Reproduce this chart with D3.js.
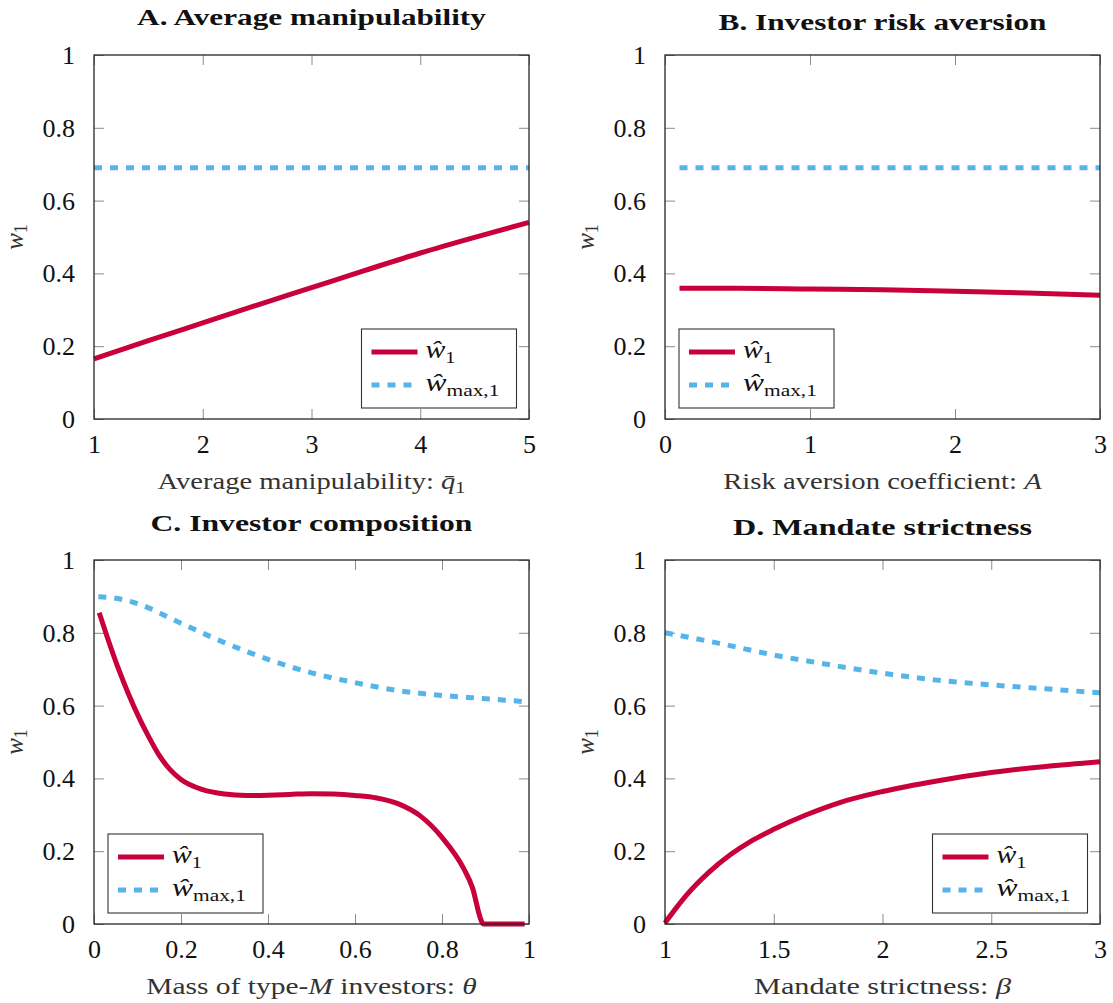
<!DOCTYPE html>
<html><head><meta charset="utf-8">
<script src="https://cdn.jsdelivr.net/npm/d3@7"></script>
<style>body{margin:0;background:#fff}</style>
</head><body>
<svg id="chart" width="1113" height="1003" xmlns="http://www.w3.org/2000/svg"></svg>
<script>
// ---------- text ----------
const panelTitles = ["A. Average manipulability", "B. Investor risk aversion", "C. Investor composition", "D. Mandate strictness"];
const yTickValues = [0, 0.2, 0.4, 0.6, 0.8, 1];
const yTickLabels = ["0", "0.2", "0.4", "0.6", "0.8", "1"];

const aTickValues = [1, 2, 3, 4, 5];
const aTickLabels = ["1", "2", "3", "4", "5"];
const bTickValues = [0, 1, 2, 3];
const bTickLabels = ["0", "1", "2", "3"];
const cTickValues = [0, 0.2, 0.4, 0.6, 0.8, 1];
const cTickLabels = ["0", "0.2", "0.4", "0.6", "0.8", "1"];
const dTickValues = [1, 1.5, 2, 2.5, 3];
const dTickLabels = ["1", "1.5", "2", "2.5", "3"];

// x-axis labels: [text, italic?, subscript?]
const aXLabel = [["Average manipulability: ", false], ["q\u0304", true], ["1", false, true]];
const bXLabel = [["Risk aversion coefficient: ", false], ["A", true]];
const cXLabel = [["Mass of type-", false], ["M", true], [" investors: ", false], ["\u03B8", true]];
const dXLabel = [["Mandate strictness: ", false], ["\u03B2", true]];

const legendSubs = ["1", "max,1"];

// ---------- data ----------
// A. Average manipulability
const aQ    = [1, 1.5, 2, 2.5, 3, 3.5, 4, 4.5, 5];
const aW    = [0.165, 0.215, 0.264, 0.313, 0.361, 0.409, 0.456, 0.499, 0.540];
const aWmax = [0.690, 0.690, 0.690, 0.690, 0.690, 0.690, 0.690, 0.690, 0.690];

// B. Investor risk aversion
const bA    = [0.1, 0.5, 1, 1.5, 2, 2.5, 3];
const bW    = [0.359, 0.359, 0.357, 0.355, 0.351, 0.346, 0.340];
const bWmax = [0.690, 0.690, 0.690, 0.690, 0.690, 0.690, 0.690];

// C. Investor composition
const cTheta = [0.012, 0.03, 0.055, 0.08, 0.1, 0.125, 0.15, 0.175, 0.2, 0.25, 0.3, 0.35, 0.4, 0.45, 0.5, 0.55, 0.6, 0.65, 0.7, 0.75, 0.8, 0.85, 0.87, 0.89, 0.895, 0.94, 0.99];
const cW     = [0.855, 0.790, 0.705, 0.630, 0.576, 0.516, 0.463, 0.424, 0.397, 0.369, 0.357, 0.353, 0.354, 0.356, 0.358, 0.357, 0.353, 0.346, 0.330, 0.297, 0.238, 0.152, 0.100, 0.010, 0.0, 0.0, 0.0];
const cThetaMax = [0.01, 0.05, 0.1, 0.2, 0.3, 0.4, 0.5, 0.6, 0.7, 0.8, 0.9, 0.99];
const cWmax     = [0.899, 0.895, 0.880, 0.826, 0.773, 0.727, 0.690, 0.663, 0.641, 0.628, 0.619, 0.611];

// D. Mandate strictness
const dBeta = [1, 1.05, 1.1, 1.2, 1.3, 1.4, 1.5, 1.65, 1.8, 2, 2.25, 2.5, 2.75, 3];
const dW    = [0.003, 0.043, 0.080, 0.141, 0.190, 0.229, 0.260, 0.300, 0.333, 0.364, 0.393, 0.416, 0.433, 0.446];
const dBetaMax = [1, 1.25, 1.5, 1.75, 2, 2.25, 2.5, 2.75, 3];
const dWmax    = [0.800, 0.771, 0.739, 0.713, 0.689, 0.670, 0.657, 0.646, 0.635];

// ---------- drawing ----------
const FONT = "Liberation Serif";
const RED = "#C8003C", BLUE = "#56B4E9";
const PW = 435, PH = 364;
const FS = 24, TICKFS = 26, SUBFS = 17;

const panels = [
  {title: panelTitles[0], domain: [1, 5], ticks: aTickValues, tickLabels: aTickLabels, xl: aXLabel,
   w: aQ.map((x, i) => [x, aW[i]]), wmax: aQ.map((x, i) => [x, aWmax[i]]),
   left: 94, top: 55, titleBase: 25, titleW: 349, xlW: 308, legendRight: true},
  {title: panelTitles[1], domain: [0, 3], ticks: bTickValues, tickLabels: bTickLabels, xl: bXLabel,
   w: bA.map((x, i) => [x, bW[i]]), wmax: bA.map((x, i) => [x, bWmax[i]]),
   left: 665, top: 55, titleBase: 30, titleW: 328, xlW: 319, legendRight: false},
  {title: panelTitles[2], domain: [0, 1], ticks: cTickValues, tickLabels: cTickLabels, xl: cXLabel,
   w: cTheta.map((x, i) => [x, cW[i]]), wmax: cThetaMax.map((x, i) => [x, cWmax[i]]),
   left: 94, top: 560, titleBase: 531, titleW: 322, xlW: 331, legendRight: false},
  {title: panelTitles[3], domain: [1, 3], ticks: dTickValues, tickLabels: dTickLabels, xl: dXLabel,
   w: dBeta.map((x, i) => [x, dW[i]]), wmax: dBetaMax.map((x, i) => [x, dWmax[i]]),
   left: 665, top: 560, titleBase: 535, titleW: 299, xlW: 257, legendRight: true}
];

const svg = d3.select("#chart");

// stretch a text horizontally to a given width, about its centre or its left edge
function fitWidth(sel, targetW, anchorLeft) {
  const bb = sel.node().getBBox();
  if (!bb.width) return;
  const cx = anchorLeft ? bb.x : bb.x + bb.width / 2;
  const s = targetW / bb.width;
  const prev = sel.attr("transform") || "";
  sel.attr("transform", `${prev} translate(${cx},0) scale(${s},1) translate(${-cx},0)`);
}

function mathW(sel, sub) {
  sel.append("tspan").attr("font-style", "italic").text("w\u0302");
  sel.append("tspan").attr("font-size", SUBFS).attr("dy", 5).text(sub);
}

panels.forEach(p => {
  const g = svg.append("g").attr("transform", `translate(${p.left},${p.top})`);
  const x = d3.scaleLinear().domain(p.domain).range([0, PW]);
  const y = d3.scaleLinear().domain([0, 1]).range([PH, 0]);

  const bottom = g.append("g").attr("transform", `translate(0,${PH})`)
    .call(d3.axisBottom(x).tickValues(p.ticks).tickSize(-10).tickPadding(25)
      .tickFormat((d, i) => p.tickLabels[i]));
  const top = g.append("g")
    .call(d3.axisTop(x).tickValues(p.ticks).tickSize(-10).tickFormat(""));
  const left = g.append("g")
    .call(d3.axisLeft(y).tickValues(yTickValues).tickSize(-10).tickPadding(19)
      .tickFormat((d, i) => yTickLabels[i]));
  const right = g.append("g").attr("transform", `translate(${PW},0)`)
    .call(d3.axisRight(y).tickValues(yTickValues).tickSize(-10).tickFormat(""));
  [bottom, top, left, right].forEach(a => {
    a.attr("font-family", FONT).attr("font-size", TICKFS);
    a.select(".domain").remove();
    a.selectAll(".tick line").attr("stroke", "#8c8c8c").attr("stroke-width", 1);
    a.selectAll("text").attr("font-family", FONT).attr("font-size", TICKFS).attr("fill", "#111");
  });
  bottom.selectAll("text").attr("dy", null).attr("y", 34);
  left.selectAll("text").attr("dy", "0.33em");

  const line = d3.line().x(d => x(d[0])).y(d => y(d[1])).curve(d3.curveMonotoneX);
  g.append("path").datum(p.wmax).attr("d", line).attr("fill", "none")
    .attr("stroke", BLUE).attr("stroke-width", 5).attr("stroke-dasharray", "8,8");
  g.append("path").datum(p.w).attr("d", line).attr("fill", "none")
    .attr("stroke", RED).attr("stroke-width", 5);

  g.append("rect").attr("width", PW).attr("height", PH).attr("fill", "none")
    .attr("stroke", "#262626").attr("stroke-width", 1.3);

  // title
  const tt = svg.append("text").attr("x", p.left + PW / 2).attr("y", p.titleBase)
    .attr("text-anchor", "middle").attr("font-family", FONT).attr("font-weight", "bold")
    .attr("font-size", FS).attr("fill", "#111").text(p.title);
  fitWidth(tt, p.titleW, false);

  // x label
  const xt = svg.append("text").attr("x", p.left + PW / 2).attr("y", p.top + PH + 70)
    .attr("text-anchor", "middle").attr("font-family", FONT).attr("font-size", FS).attr("fill", "#333");
  p.xl.forEach(part => {
    const t = xt.append("tspan").text(part[0]);
    if (part[1]) t.attr("font-style", "italic");
    if (part[2]) t.attr("font-size", SUBFS).attr("dy", 4);
  });
  fitWidth(xt, p.xlW, false);

  // y label
  const yt = svg.append("text")
    .attr("transform", `translate(${p.left - 71},${p.top + PH / 2}) rotate(-90)`)
    .attr("text-anchor", "middle").attr("font-family", FONT).attr("font-size", FS + 1).attr("fill", "#333");
  yt.append("tspan").attr("font-style", "italic").text("w");
  yt.append("tspan").attr("font-size", SUBFS + 1).attr("dy", 4).text("1");

  // legend
  const LW = 155, LH = 79;
  const lx = p.legendRight ? PW - 12.5 - LW : 14;
  const ly = PH - 11 - LH;
  const lg = g.append("g").attr("transform", `translate(${lx},${ly})`);
  lg.append("rect").attr("width", LW).attr("height", LH).attr("fill", "#fff")
    .attr("stroke", "#333").attr("stroke-width", 1.1);
  const rows = [{c: RED, dash: null, sub: legendSubs[0], yy: 23, tw: 30},
                {c: BLUE, dash: "8,8", sub: legendSubs[1], yy: 56, tw: 74}];
  rows.forEach(r => {
    lg.append("line").attr("x1", 10).attr("x2", 56).attr("y1", r.yy).attr("y2", r.yy)
      .attr("stroke", r.c).attr("stroke-width", 5).attr("stroke-dasharray", r.dash);
    const t = lg.append("text").attr("x", 64).attr("y", r.yy + 6)
      .attr("font-family", FONT).attr("font-size", FS + 1).attr("fill", "#111");
    mathW(t, r.sub);
    fitWidth(t, r.tw, true);
  });
});
</script>
</body></html>
